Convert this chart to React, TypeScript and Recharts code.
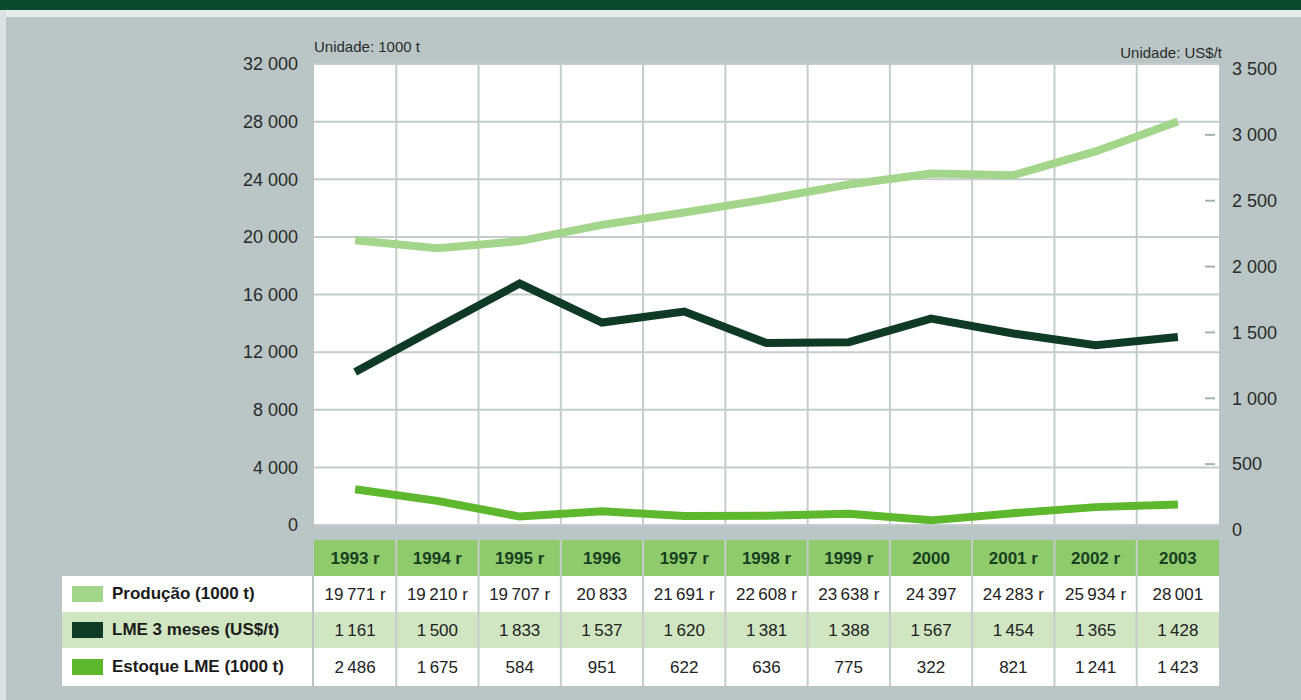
import { LineChart, Line, XAxis, YAxis, CartesianGrid } from "recharts"

const years = ["1993 r", "1994 r", "1995 r", "1996", "1997 r", "1998 r", "1999 r", "2000", "2001 r", "2002 r", "2003"]
const producao = [19771, 19210, 19707, 20833, 21691, 22608, 23638, 24397, 24283, 25934, 28001]
const producaoRevisado = [true, true, true, false, true, true, true, false, true, true, false]
const lme3meses = [1161, 1500, 1833, 1537, 1620, 1381, 1388, 1567, 1454, 1365, 1428]
const estoqueLme = [2486, 1675, 584, 951, 622, 636, 775, 322, 821, 1241, 1423]
const leftTicks = [0, 4000, 8000, 12000, 16000, 20000, 24000, 28000, 32000]
const rightTicks = [0, 500, 1000, 1500, 2000, 2500, 3000, 3500]

const data = years.map((year, i) => ({
    year,
    producao: producao[i],
    lme: lme3meses[i],
    estoque: estoqueLme[i],
}))

const W = 1301
const H = 700
const LEFT_W = 314
const RIGHT_W = 82
const TOP = 64
const BOTTOM_H = 175
const COL_W = (W - LEFT_W - RIGHT_W) / years.length

const C_PROD = "#a3d68b"
const C_LME = "#0f3a26"
const C_EST = "#5db82d"
const C_HEAD = "#8fcb6d"
const C_ROW = "#d0e6c2"
const C_BG = "#b9c6c5"
const C_SEP = "#c6cbcb"
const FONT = "'Liberation Sans', Arial, sans-serif"

const fmt = (n: number, sep = " ") => n.toString().replace(/\B(?=(\d{3})+(?!\d))/g, sep)

// row layout of the table under the plot, relative to the x axis line
const ROWS = [
    { top: 15, h: 36 },
    { top: 51, h: 36 },
    { top: 87, h: 36 },
    { top: 123, h: 38 },
]

function TableTick(props: any) {
    const { x, y, index } = props
    const left = x - COL_W / 2
    const cells = [
        fmt(producao[index], "\u2009") + (producaoRevisado[index] ? " r" : ""),
        fmt(lme3meses[index], "\u2009"),
        fmt(estoqueLme[index], "\u2009"),
    ]
    const fills = [C_HEAD, "#ffffff", C_ROW, "#ffffff"]
    return (
        <g>
            {ROWS.map((r, i) => (
                <rect key={i} x={left} y={y + r.top} width={COL_W} height={r.h} fill={fills[i]} />
            ))}
            {index > 0 && (
                <line x1={left} x2={left} y1={y + ROWS[0].top} y2={y + 161} stroke={C_SEP} strokeWidth={2} />
            )}
            <text x={x} y={y + ROWS[0].top + ROWS[0].h / 2} dy="0.35em" textAnchor="middle"
                fontSize={17} fontWeight="bold" fill="#173f20" fontFamily={FONT}>
                {years[index]}
            </text>
            {cells.map((c, i) => (
                <text key={i} x={x} y={y + ROWS[i + 1].top + ROWS[i + 1].h / 2} dy="0.35em" textAnchor="middle"
                    fontSize={17} fill="#222" fontFamily={FONT}>
                    {c}
                </text>
            ))}
        </g>
    )
}

function LeftTick(props: any) {
    const { x, y, payload } = props
    return (
        <text x={x - 16} y={y} dy="0.35em" textAnchor="end" fontSize={18} fill="#2a2a2a" fontFamily={FONT}>
            {fmt(payload.value)}
        </text>
    )
}

function RightTick(props: any) {
    const { x, y, payload } = props
    return (
        <g>
            {payload.value > 0 && payload.value < 3500 && (
                <line x1={x - 14} x2={x - 4} y1={y + 5} y2={y + 5} stroke="#a8afaf" strokeWidth={2} />
            )}
            <text x={x + 13} y={y + 5} dy="0.35em" textAnchor="start" fontSize={18} fill="#2a2a2a" fontFamily={FONT}>
                {fmt(payload.value)}
            </text>
        </g>
    )
}

const legendRows = [
    { label: "Produção (1000 t)", color: C_PROD, bg: "#ffffff", h: 36 },
    { label: "LME 3 meses (US$/t)", color: C_LME, bg: C_ROW, h: 36 },
    { label: "Estoque LME (1000 t)", color: C_EST, bg: "#ffffff", h: 38 },
]

export default function App() {
    return (
        <div style={{ position: "absolute", left: 0, top: 0, width: W, height: H, background: C_BG, overflow: "hidden", fontFamily: FONT }}>
            <div style={{ position: "absolute", left: 0, top: 0, width: W, height: 10, background: "#0c4a2d" }} />
            <div style={{ position: "absolute", left: 0, top: 10, width: W, height: 7, background: "#e7edeb" }} />
            <div style={{ position: "absolute", left: 0, top: 10, width: 6, height: H, background: "#dce3e2" }} />
            <div style={{ position: "absolute", left: LEFT_W, top: 38, fontSize: 15, color: "#2a2a2a" }}>Unidade: 1000 t</div>
            <div style={{ position: "absolute", right: RIGHT_W - 3, top: 44, fontSize: 15, color: "#2a2a2a" }}>Unidade: US$/t</div>
            <div style={{ position: "absolute", left: 0, top: 0 }}>
                <LineChart width={W} height={H} data={data} margin={{ top: TOP, right: 0, bottom: 0, left: 0 }}>
                    <CartesianGrid
                        yAxisId="left"
                        fill="#ffffff"
                        stroke={C_SEP}
                        strokeWidth={2}
                        verticalCoordinatesGenerator={({ offset }: any) =>
                            years.slice(1).map((_, i) => offset.left + (offset.width * (i + 1)) / years.length)
                        }
                    />
                    <XAxis
                        dataKey="year"
                        height={BOTTOM_H}
                        padding={{ left: COL_W / 2, right: COL_W / 2 }}
                        axisLine={false}
                        tickLine={false}
                        tickSize={0}
                        tickMargin={0}
                        interval={0}
                        tick={<TableTick />}
                    />
                    <YAxis
                        yAxisId="left"
                        width={LEFT_W}
                        domain={[0, 32000]}
                        ticks={leftTicks}
                        axisLine={false}
                        tickLine={false}
                        tickSize={0}
                        tickMargin={0}
                        interval={0}
                        tick={<LeftTick />}
                    />
                    <YAxis
                        yAxisId="right"
                        orientation="right"
                        width={RIGHT_W}
                        domain={[0, 3500]}
                        ticks={rightTicks}
                        axisLine={false}
                        tickLine={false}
                        tickSize={0}
                        tickMargin={0}
                        interval={0}
                        tick={<RightTick />}
                    />
                    <Line yAxisId="left" dataKey="producao" stroke={C_PROD} strokeWidth={8} dot={false}
                        type="linear" strokeLinejoin="miter" strokeLinecap="butt" isAnimationActive={false} />
                    <Line yAxisId="right" dataKey="lme" stroke={C_LME} strokeWidth={8} dot={false}
                        type="linear" strokeLinejoin="miter" strokeLinecap="butt" isAnimationActive={false} />
                    <Line yAxisId="left" dataKey="estoque" stroke={C_EST} strokeWidth={8} dot={false}
                        type="linear" strokeLinejoin="miter" strokeLinecap="butt" isAnimationActive={false} />
                </LineChart>
            </div>
            <div style={{ position: "absolute", left: 62, top: 525 + ROWS[1].top, width: LEFT_W - 62 - 2 }}>
                {legendRows.map((r) => (
                    <div key={r.label} style={{ height: r.h, background: r.bg, display: "flex", alignItems: "center" }}>
                        <div style={{ width: 31, height: 16, background: r.color, marginLeft: 10, marginRight: 9 }} />
                        <span style={{ fontSize: 17, fontWeight: "bold", color: "#1b1b1b" }}>{r.label}</span>
                    </div>
                ))}
            </div>
        </div>
    )
}
